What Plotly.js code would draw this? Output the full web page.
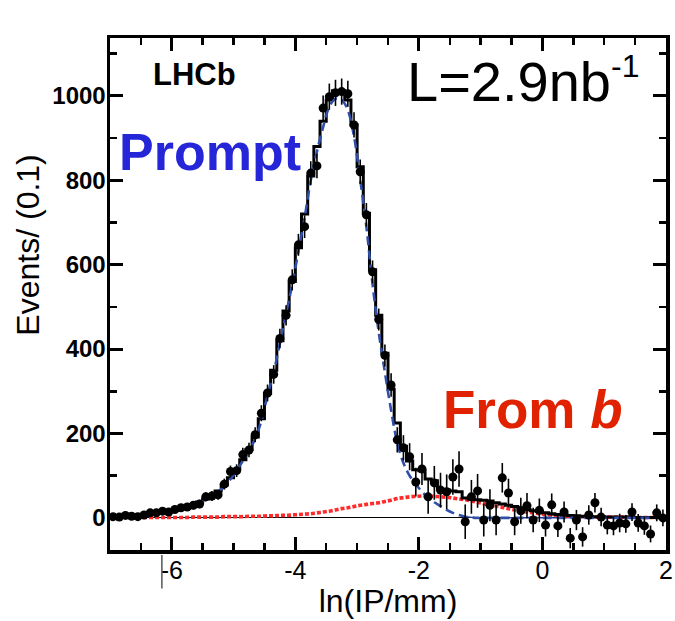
<!DOCTYPE html>
<html>
<head>
<meta charset="utf-8">
<script src="https://cdn.plot.ly/plotly-3.0.1.min.js"></script>
<style>html,body{margin:0;padding:0;background:#fff;}#chart{width:675px;height:621px;}</style>
</head>
<body>
<div id="chart"></div>
<script>
// Bin centres of ln(IP/mm), bin width 0.1
const binCenters = [-6.95,-6.85,-6.75,-6.65,-6.55,-6.45,-6.35,-6.25,-6.15,-6.05,
  -5.95,-5.85,-5.75,-5.65,-5.55,-5.45,-5.35,-5.25,-5.15,-5.05,
  -4.95,-4.85,-4.75,-4.65,-4.55,-4.45,-4.35,-4.25,-4.15,-4.05,
  -3.95,-3.85,-3.75,-3.65,-3.55,-3.45,-3.35,-3.25,-3.15,-3.05,
  -2.95,-2.85,-2.75,-2.65,-2.55,-2.45,-2.35,-2.25,-2.15,-2.05,
  -1.95,-1.85,-1.75,-1.65,-1.55,-1.45,-1.35,-1.25,-1.15,-1.05,
  -0.95,-0.85,-0.75,-0.65,-0.55,-0.45,-0.35,-0.25,-0.15,-0.05,
  0.05,0.15,0.25,0.35,0.45,0.55,0.65,0.75,0.85,0.95,
  1.05,1.15,1.25,1.35,1.45,1.55,1.65,1.75,1.85,1.95];

// Data points (events per 0.1)
const dataEvents = [3,2,6,4,3,7,12,12,16,14,
  20,24,26,30,33,50,52,55,80,110,
  112,150,161,197,248,296,340,425,480,564,
  647,690,817,834,971,998,1007,1010,1005,931,
  820,718,583,470,385,315,185,166,145,85,
  116,50,83,66,62,97,116,-9,50,64,
  -5,30,-5,95,59,-9,17,29,-5,18,
  -17,31,-19,14,-48,-5,-45,7,36,2,
  -17,-19,-12,-14,14,-12,-19,-38,12,0];

const dataErrors = [6,6,6,6,6,7,7,7,8,8,
  8,9,9,10,10,11,12,12,13,14,
  15,16,17,18,19,20,22,23,24,25,
  26,27,28,29,30,31,31,31,31,30,
  29,28,27,26,26,28,30,30,32,34,
  38,40,40,41,41,42,42,41,40,40,
  39,38,36,35,34,32,31,30,29,28,
  27,27,26,25,24,24,23,23,23,22,
  22,22,22,21,21,21,21,20,20,20];

// Total fit (step histogram)
const totalFit = [4,5,5,6,7,8,10,12,14,16,
  19,23,27,32,38,45,54,64,78,95,
  115,138,162,192,235,295,350,420,490,560,
  640,720,810,880,940,990,1012,1012,990,931,
  832,722,588,480,390,305,225,170,135,114,
  112,92,88,68,66,64,62,47,44,43,
  42,40,36,33,30,27,24,20,17,15,
  12,10,8,7,6,5,4,4,3,3,
  2,2,2,2,1,1,1,1,1,1];

// Prompt component (dashed blue)
const promptFit = [3,4,4,5,6,7,9,11,13,15,
  18,22,26,30,36,43,52,62,75,92,
  112,135,158,188,230,290,345,414,484,553,
  632,711,800,868,926,974,993,990,966,904,
  802,690,554,440,345,255,178,130,100,80,
  62,48,37,28,19,12,7,3,1,0,
  0,0,0,0,0,0,0,0,0,0,
  0,0,0,0,0,0,0,0,0,0,
  0,0,0,0,0,0,0,0,0,0];

// From-b component (dotted red)
const fromBFit = [1,1,1,1,1,1,1,1,1,1,
  1,1,1,2,2,2,2,2,3,3,
  3,3,4,4,4,5,5,6,6,7,
  8,9,10,12,14,16,19,22,24,27,
  30,32,34,36,39,42,46,48,50,51,
  52,52,51,50,49,47,45,43,40,37,
  34,31,28,25,22,19,16,14,12,10,
  8,7,6,5,4,3,3,3,2,2,
  2,2,2,2,2,1,1,1,1,1];

const xTickVals = [-6,-4,-2,0,2];
const xTickText = ['-6','-4','-2','0','2'];

// prompt tail drawn as thin solid line where it has reached zero
const tailX = binCenters.filter((x,i)=> x > -1.3);
const tailY = promptFit.filter((y,i)=> binCenters[i] > -1.3);

const FONT = 'Liberation Sans, Arial, sans-serif';

const traces = [
  {x: tailX, y: tailY, mode:'lines', line:{color:'#3246a8', width:1.3}, hoverinfo:'skip', showlegend:false},
  {x: binCenters, y: fromBFit, mode:'lines', line:{color:'#ff2a2a', width:3.6, dash:'4px,2px', shape:'spline'}, showlegend:false},
  {x: binCenters, y: totalFit, mode:'lines', line:{color:'#000', width:3, shape:'hvh'}, showlegend:false},
  {x: binCenters, y: promptFit, mode:'lines', line:{color:'#2f4fa8', width:2.6, dash:'9px,5px', shape:'spline'}, showlegend:false},
  {x: binCenters, y: dataEvents, mode:'markers', marker:{color:'#000', size:9},
   error_y:{type:'data', array: dataErrors, visible:true, color:'#000', thickness:1.6, width:0}, showlegend:false}
];

const layout = {
  width:675, height:621,
  margin:{l:110, r:9, t:38, b:71},
  paper_bgcolor:'#fff', plot_bgcolor:'#fff',
  showlegend:false,
  font:{family:FONT, color:'#000'},
  xaxis:{
    range:[-7,2], tickvals:xTickVals, ticktext:xTickText,
    ticks:'inside', ticklen:13, tickwidth:3, tickcolor:'#000',
    minor:{dtick:0.5, tick0:0, ticks:'inside', ticklen:7, tickwidth:2.5, tickcolor:'#000'},
    showline:true, linecolor:'#000', linewidth:3.5, mirror:'ticks',
    showgrid:false, zeroline:false, ticklabelstandoff:-5,
    tickfont:{family:FONT, size:25, color:'#000'},
    title:{text:'ln(IP/mm)', font:{family:FONT, size:32, color:'#000'}, standoff:2}
  },
  yaxis:{
    range:[-76,1137], tick0:0, dtick:200,
    ticks:'inside', ticklen:13, tickwidth:3, tickcolor:'#000',
    minor:{dtick:100, ticks:'inside', ticklen:7, tickwidth:2.5, tickcolor:'#000'},
    showline:true, linecolor:'#000', linewidth:3.5, mirror:'ticks',
    showgrid:false, zeroline:true, zerolinecolor:'#000', zerolinewidth:1, ticklabelstandoff:-4,
    tickfont:{family:FONT, size:24, color:'#000', weight:'bold'}
  },
  shapes:[
    {type:'line', xref:'x', yref:'paper', x0:-6.16, x1:-6.16, y0:-0.01, y1:-0.075, line:{color:'#555', width:1.5}}
  ],
  annotations:[
    {text:'Events/ (0.1)', xref:'paper', yref:'paper', x:-0.147, y:0.595, textangle:-90,
     showarrow:false, xanchor:'center', yanchor:'middle', font:{family:FONT, size:32, color:'#000'}},
    {text:'<b>LHCb</b>', xref:'paper', yref:'paper', x:(151-110)/556, y:(550-74)/512,
     showarrow:false, xanchor:'left', yanchor:'middle', font:{family:FONT, size:31, color:'#000'}},
    {text:'<b>Prompt</b>', xref:'paper', yref:'paper', x:(117-110)/556, y:(550-152)/512,
     showarrow:false, xanchor:'left', yanchor:'middle', font:{family:FONT, size:52, color:'#2626d9'}},
    {text:'L=2.9nb<sup><span style="font-size:32px">-1</span></sup>', xref:'paper', yref:'paper', x:(405-110)/556, y:(550-80)/512,
     showarrow:false, xanchor:'left', yanchor:'middle', font:{family:FONT, size:56, color:'#000'}},
    {text:'<b>From <i>b</i></b>', xref:'paper', yref:'paper', x:(441-110)/556, y:(550-409)/512,
     showarrow:false, xanchor:'left', yanchor:'middle', font:{family:FONT, size:53, color:'#e02200'}}
  ]
};

Plotly.newPlot('chart', traces, layout, {displayModeBar:false, staticPlot:true});
</script>
</body>
</html>
